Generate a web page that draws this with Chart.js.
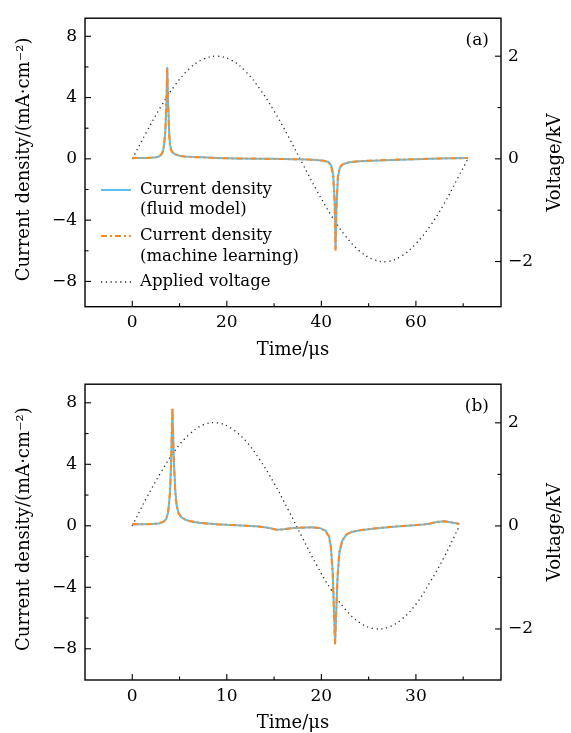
<!DOCTYPE html>
<html><head><meta charset="utf-8">
<script src="https://cdn.jsdelivr.net/npm/chart.js@4.4.1/dist/chart.umd.min.js"></script>
<style>
html,body{margin:0;padding:0;background:#fff;}
canvas{display:block;}
</style></head>
<body>
<canvas id="ca" width="571" height="366" style="width:571px;height:366px"></canvas>
<canvas id="cb" width="571" height="367" style="width:571px;height:367px"></canvas>
<script>
// ---------- Panel (a) data ----------
const timeA = [0, 1, 2, 3, 4, 5, 5.5, 6, 6.4, 6.7, 7.0, 7.2, 7.4, 7.6, 7.8, 8.0, 8.3, 8.7, 9.2, 10, 11, 12.5, 15, 18, 22, 26, 30, 34, 37, 39, 40.5, 41.5, 42.1, 42.5, 42.8, 43.0, 43.2, 43.5, 43.9, 44.4, 45, 46, 48, 51, 55, 60, 65, 71];
const currentFluidA = [0.05, 0.05, 0.05, 0.06, 0.07, 0.1, 0.14, 0.22, 0.4, 0.8, 1.8, 3.4, 6.0, 3.6, 1.7, 0.9, 0.55, 0.38, 0.28, 0.2, 0.16, 0.13, 0.1, 0.06, 0.03, 0.01, 0, -0.02, -0.05, -0.08, -0.12, -0.2, -0.45, -1.0, -2.6, -5.9, -3.2, -1.2, -0.6, -0.4, -0.3, -0.22, -0.16, -0.12, -0.07, -0.02, 0.02, 0.05];
const currentMLA = [0.04, 0.05, 0.06, 0.06, 0.08, 0.1, 0.15, 0.24, 0.42, 0.85, 1.9, 3.5, 5.9, 3.5, 1.6, 0.85, 0.5, 0.36, 0.27, 0.2, 0.15, 0.12, 0.09, 0.05, 0.02, 0.02, -0.01, -0.02, -0.04, -0.08, -0.13, -0.21, -0.5, -1.1, -2.8, -6.0, -3.1, -1.1, -0.55, -0.38, -0.3, -0.21, -0.15, -0.11, -0.06, -0.02, 0.03, 0.05];
const timeVoltA = [0, 3, 6, 9, 12, 15, 18, 21, 24, 27, 30, 33, 36, 39, 42, 45, 48, 51, 54, 57, 60, 63, 66, 69, 71];
const voltageA = [0, 0.52, 1.01, 1.43, 1.75, 1.94, 2.0, 1.92, 1.70, 1.36, 0.93, 0.44, -0.09, -0.61, -1.09, -1.49, -1.79, -1.96, -2.0, -1.89, -1.65, -1.31, -0.87, -0.35, 0];

// ---------- Panel (b) data ----------
const timeB = [0, 1, 2, 2.8, 3.3, 3.6, 3.8, 4.0, 4.1, 4.25, 4.4, 4.55, 4.7, 4.9, 5.2, 5.6, 6.1, 7, 8, 9, 10.5, 12, 13.5, 14.5, 15.3, 16, 17, 18, 19, 19.8, 20.4, 20.8, 21.0, 21.2, 21.45, 21.7, 21.9, 22.2, 22.6, 23.2, 24, 25, 26.5, 28, 29.5, 30.8, 31.5, 32.2, 33, 33.8, 34.6];
const currentFluidB = [0.1, 0.1, 0.12, 0.15, 0.25, 0.45, 0.9, 2.2, 4.0, 7.6, 4.2, 2.3, 1.3, 0.85, 0.55, 0.4, 0.3, 0.2, 0.15, 0.1, 0.05, 0.0, -0.05, -0.15, -0.25, -0.22, -0.15, -0.12, -0.1, -0.14, -0.3, -0.65, -1.3, -3.0, -7.7, -3.5, -1.8, -1.0, -0.6, -0.4, -0.3, -0.22, -0.12, -0.04, 0.02, 0.08, 0.14, 0.25, 0.3, 0.22, 0.12];
const currentMLB = [0.11, 0.1, 0.11, 0.16, 0.26, 0.47, 0.95, 2.3, 4.1, 7.7, 4.1, 2.2, 1.25, 0.8, 0.55, 0.41, 0.31, 0.21, 0.14, 0.09, 0.05, 0.01, -0.06, -0.16, -0.26, -0.23, -0.14, -0.11, -0.1, -0.15, -0.32, -0.7, -1.4, -3.2, -7.7, -3.4, -1.7, -0.95, -0.58, -0.4, -0.29, -0.21, -0.11, -0.03, 0.03, 0.09, 0.15, 0.26, 0.29, 0.21, 0.12];
const timeVoltB = [0, 1.5, 3, 4.5, 6, 7.5, 9, 10.5, 12, 13.5, 15, 16.5, 18, 19.5, 21, 22.5, 24, 25.5, 27, 28.5, 30, 31.5, 33, 34.6];
const voltageB = [0, 0.54, 1.03, 1.46, 1.77, 1.96, 2.0, 1.89, 1.65, 1.28, 0.83, 0.31, -0.23, -0.76, -1.23, -1.61, -1.87, -1.99, -1.97, -1.81, -1.52, -1.09, -0.60, 0];

// ---------- Ticks ----------
const xTicksA = [0, 20, 40, 60];
const xMinorA = [10, 30, 50, 70];
const xTicksB = [0, 10, 20, 30];
const xMinorB = [5, 15, 25, 35];
const currentTicks = [-8, -4, 0, 4, 8];
const currentMinor = [-6, -2, 2, 6];
const voltTicks = [-2, 0, 2];
const voltMinor = [-1, 1];

const seriesNames = ['Current density', '(fluid model)', 'Current density', '(machine learning)', 'Applied voltage'];

const FONT = '"DejaVu Serif", "Liberation Serif", serif';
const BLUE = '#5bbff0';
const ORANGE = '#ff8a1f';
const DOTS = '#222';
const DASHDOT = [6, 3, 2, 3];
const DOTTED = [1.2, 3.6];

const fmt = v => (v < 0 ? '\u2212' + Math.abs(v) : String(v));
const pts = (xs, ys) => xs.map((x, i) => ({x: x, y: ys[i]}));

function decoPlugin(cfg) {
  return {
    id: 'deco',
    afterDraw(chart) {
      const ctx = chart.ctx, a = chart.chartArea;
      const sx = chart.scales.x, sy = chart.scales.y, sv = chart.scales.y2;
      ctx.save();
      ctx.strokeStyle = '#000';
      ctx.lineWidth = 1.4;
      ctx.setLineDash([]);
      ctx.strokeRect(a.left, a.top, a.right - a.left, a.bottom - a.top);
      ctx.lineWidth = 1.1;
      const seg = (x1, y1, x2, y2) => { ctx.beginPath(); ctx.moveTo(x1, y1); ctx.lineTo(x2, y2); ctx.stroke(); };
      cfg.xMajor.forEach(v => { const x = sx.getPixelForValue(v); seg(x, a.bottom, x, a.bottom - 6); });
      cfg.xMinor.forEach(v => { const x = sx.getPixelForValue(v); seg(x, a.bottom, x, a.bottom - 3.5); });
      currentTicks.forEach(v => { const y = sy.getPixelForValue(v); seg(a.left, y, a.left + 6, y); });
      currentMinor.forEach(v => { const y = sy.getPixelForValue(v); seg(a.left, y, a.left + 3.5, y); });
      voltTicks.forEach(v => { const y = sv.getPixelForValue(v); seg(a.right, y, a.right - 6, y); });
      voltMinor.forEach(v => { const y = sv.getPixelForValue(v); seg(a.right, y, a.right - 3.5, y); });

      ctx.fillStyle = '#000';
      ctx.textBaseline = 'middle';
      ctx.textAlign = 'center';
      ctx.font = '18px ' + FONT;
      ctx.fillText('Time/\u03bcs', (a.left + a.right) / 2, cfg.xTitleY);
      ctx.save(); ctx.translate(24, (a.top + a.bottom) / 2 - 3); ctx.rotate(-Math.PI / 2);
      ctx.fillText('Current density/(mA\u00b7cm\u207b\u00b2)', 0, 0); ctx.restore();
      ctx.save(); ctx.translate(555, (a.top + a.bottom) / 2); ctx.rotate(-Math.PI / 2);
      ctx.fillText('Voltage/kV', 0, 0); ctx.restore();

      ctx.textAlign = 'right';
      ctx.font = '17px ' + FONT;
      ctx.fillText(cfg.panel, 489, a.top + 22);

      if (cfg.legend) {
        const rows = [190, 210, 236, 257, 282];
        ctx.textAlign = 'left';
        ctx.font = '16.5px ' + FONT;
        seriesNames.forEach((s, i) => ctx.fillText(s, 140, rows[i]));
        ctx.lineWidth = 2;
        ctx.strokeStyle = BLUE; ctx.setLineDash([]);
        seg(101, rows[0], 131, rows[0]);
        ctx.strokeStyle = ORANGE; ctx.setLineDash(DASHDOT);
        seg(101, rows[2], 131, rows[2]);
        ctx.lineWidth = 1.3;
        ctx.strokeStyle = DOTS; ctx.setLineDash(DOTTED);
        seg(101, rows[4], 131, rows[4]);
      }
      ctx.restore();
    }
  };
}

function build(id, o) {
  const tickFont = {family: FONT, size: 17};
  new Chart(document.getElementById(id), {
    type: 'line',
    data: {
      datasets: [
        {label: 'Current density (machine learning)', data: pts(o.t, o.ml), yAxisID: 'y', borderColor: ORANGE, borderWidth: 2, borderDash: DASHDOT, pointRadius: 0, tension: 0, fill: false},
        {label: 'Current density (fluid model)', data: pts(o.t, o.fluid), yAxisID: 'y', borderColor: BLUE, borderWidth: 2, pointRadius: 0, tension: 0, fill: false},
        {label: 'Applied voltage', data: pts(o.tv, o.v), yAxisID: 'y2', borderColor: DOTS, borderWidth: 1.3, borderDash: DOTTED, pointRadius: 0, tension: 0.4, fill: false}
      ]
    },
    options: {
      responsive: false,
      devicePixelRatio: 1,
      animation: false,
      layout: {padding: {top: o.top, left: 0, right: 0, bottom: 0}},
      plugins: {legend: {display: false}, tooltip: {enabled: false}},
      scales: {
        x: {
          type: 'linear', position: 'bottom', min: o.xmin, max: o.xmax,
          afterBuildTicks: s => { s.ticks = o.xMajor.map(v => ({value: v})); },
          afterFit: s => { s.height = o.xh; },
          grid: {display: false, drawTicks: false},
          border: {display: false},
          ticks: {font: tickFont, color: '#000', padding: 6, maxRotation: 0, callback: fmt}
        },
        y: {
          type: 'linear', position: 'left', min: o.ymin, max: o.ymax,
          afterBuildTicks: s => { s.ticks = currentTicks.map(v => ({value: v})); },
          afterFit: s => { s.width = 85; },
          grid: {display: false, drawTicks: false},
          border: {display: false},
          ticks: {font: tickFont, color: '#000', padding: 8, callback: fmt}
        },
        y2: {
          type: 'linear', position: 'right', min: o.vmin, max: o.vmax,
          afterBuildTicks: s => { s.ticks = voltTicks.map(v => ({value: v})); },
          afterFit: s => { s.width = 70; },
          grid: {display: false, drawTicks: false},
          border: {display: false},
          ticks: {font: tickFont, color: '#000', padding: 7, callback: fmt}
        }
      }
    },
    plugins: [decoPlugin(o)]
  });
}

build('ca', {
  t: timeA, fluid: currentFluidA, ml: currentMLA, tv: timeVoltA, v: voltageA,
  xmin: -10, xmax: 78, ymin: -9.65, ymax: 9.18, vmin: -2.88, vmax: 2.74,
  xMajor: xTicksA, xMinor: xMinorA, top: 8, xh: 59.3, xTitleY: 350,
  panel: '(a)', legend: true
});
build('cb', {
  t: timeB, fluid: currentFluidB, ml: currentMLB, tv: timeVoltB, v: voltageB,
  xmin: -5, xmax: 39, ymin: -10.03, ymax: 9.21, vmin: -2.99, vmax: 2.75,
  xMajor: xTicksB, xMinor: xMinorB, top: 9, xh: 53, xTitleY: 357,
  panel: '(b)', legend: false
});
</script>
</body></html>
